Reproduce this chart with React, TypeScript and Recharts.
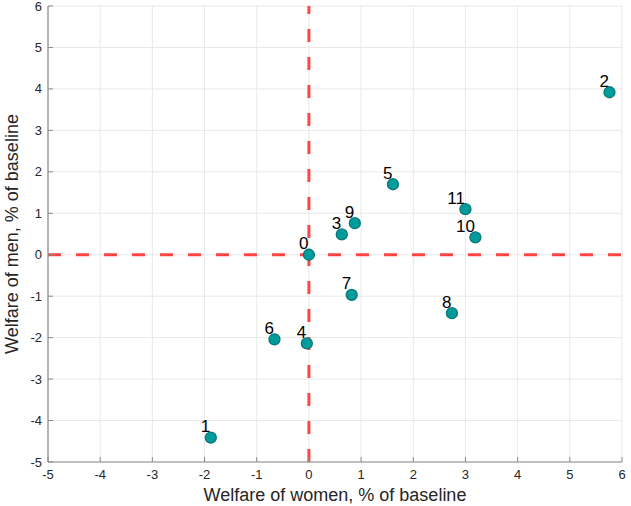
import {
  ScatterChart,
  Scatter,
  XAxis,
  YAxis,
  CartesianGrid,
  ReferenceLine,
  LabelList,
} from "recharts";

// welfare change per scenario, % of baseline
const scenarioIds = ["0", "1", "2", "3", "4", "5", "6", "7", "8", "9", "10", "11"];
const womenWelfare = [0, -1.88, 5.76, 0.63, -0.04, 1.61, -0.66, 0.82, 2.74, 0.88, 3.19, 3.0];
const menWelfare = [0, -4.41, 3.92, 0.49, -2.14, 1.7, -2.04, -0.97, -1.41, 0.76, 0.42, 1.1];
const axisTicks = [-5, -4, -3, -2, -1, 0, 1, 2, 3, 4, 5, 6];

const points = scenarioIds.map((id, i) => ({
  id,
  women: womenWelfare[i],
  men: menWelfare[i],
}));

const FONT = "'Liberation Sans', Arial, Helvetica, sans-serif";
const AXIS_COLOR = "#8a8a8a";
const TEXT_COLOR = "#262626";

const XTick = ({ x, y, payload }: any) => (
  <g>
    <line x1={x} x2={x} y1={y - 6} y2={y - 11} stroke={AXIS_COLOR} strokeWidth={1} />
    <text x={x} y={y + 11} textAnchor="middle" fontSize={13} fill={TEXT_COLOR} fontFamily={FONT}>
      {payload.value}
    </text>
  </g>
);

const YTick = ({ x, y, payload }: any) => (
  <g>
    <line x1={x + 6} x2={x + 11} y1={y} y2={y} stroke={AXIS_COLOR} strokeWidth={1} />
    <text x={x} y={y + 4.5} textAnchor="end" fontSize={13} fill={TEXT_COLOR} fontFamily={FONT}>
      {payload.value}
    </text>
  </g>
);

const PointLabel = ({ x, y, value }: any) => (
  <text
    x={x + 4}
    y={y - 1}
    textAnchor="end"
    fontSize={17}
    fill="#000"
    fontFamily={FONT}
  >
    {value}
  </text>
);

export default function App() {
  return (
    <div style={{ position: "absolute", left: 0, top: 0, background: "#fff" }}>
      <ScatterChart
        width={631}
        height={506}
        margin={{ top: 6, right: 9, left: 0, bottom: 0 }}
        style={{ fontFamily: FONT }}
      >
        <CartesianGrid stroke="#e9e9e9" strokeWidth={1} />
        <XAxis
          type="number"
          dataKey="women"
          domain={[-5, 6]}
          ticks={axisTicks}
          interval={0}
          height={44}
          tickSize={0}
          tickMargin={6}
          tickLine={false}
          tick={<XTick />}
          axisLine={{ stroke: AXIS_COLOR, strokeWidth: 1.2 }}
          label={{
            value: "Welfare of women, % of baseline",
            position: "insideBottom",
            offset: 5,
            fontSize: 18,
            fill: TEXT_COLOR,
          }}
        />
        <YAxis
          type="number"
          dataKey="men"
          domain={[-5, 6]}
          ticks={axisTicks}
          interval={0}
          width={48}
          tickSize={0}
          tickMargin={6}
          tickLine={false}
          tick={<YTick />}
          axisLine={{ stroke: AXIS_COLOR, strokeWidth: 1.2 }}
          label={{
            value: "Welfare of men, % of baseline",
            angle: -90,
            position: "insideLeft",
            offset: 0,
            dx: 12,
            fontSize: 18,
            fill: TEXT_COLOR,
            style: { textAnchor: "middle" },
          }}
        />
        <ReferenceLine
          y={0}
          stroke="#ff4646"
          strokeWidth={3}
          strokeDasharray="13 15"
          ifOverflow="extendDomain"
        />
        <ReferenceLine
          x={0}
          stroke="#ff4646"
          strokeWidth={3}
          strokeDasharray="13 15"
          ifOverflow="extendDomain"
        />
        <Scatter
          data={points}
          isAnimationActive={false}
          shape={(props: any) => (
            <circle cx={props.cx} cy={props.cy} r={5.5} fill="#009c9c" stroke="#0b7878" strokeWidth={1.3} />
          )}
        >
          <LabelList dataKey="id" content={<PointLabel />} />
        </Scatter>
      </ScatterChart>
    </div>
  );
}
